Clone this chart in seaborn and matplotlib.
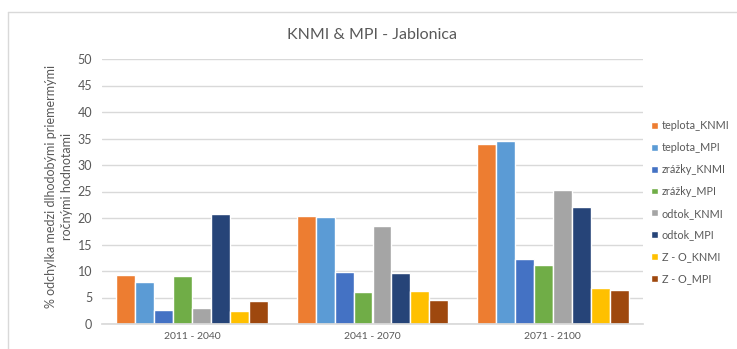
import numpy as np
import pandas as pd
import matplotlib
matplotlib.use("Agg")
import matplotlib.pyplot as plt
import seaborn as sns

# data
periods = ["2011 - 2040", "2041 - 2070", "2071 - 2100"]
series = ["teplota_KNMI", "teplota_MPI", "zrážky_KNMI", "zrážky_MPI",
          "odtok_KNMI", "odtok_MPI", "Z - O_KNMI", "Z - O_MPI"]
teplota_knmi = [9.3, 20.4, 34.0]
teplota_mpi = [8.0, 20.2, 34.5]
zrazky_knmi = [2.6, 9.9, 12.3]
zrazky_mpi = [9.1, 6.1, 11.1]
odtok_knmi = [3.1, 18.4, 25.3]
odtok_mpi = [20.7, 9.7, 22.1]
zo_knmi = [2.5, 6.3, 6.7]
zo_mpi = [4.3, 4.6, 6.5]
colors = ["#ED7D31", "#5B9BD5", "#4472C4", "#70AD47",
          "#A5A5A5", "#264478", "#FFC000", "#9E480E"]

values = [teplota_knmi, teplota_mpi, zrazky_knmi, zrazky_mpi,
          odtok_knmi, odtok_mpi, zo_knmi, zo_mpi]
df = pd.DataFrame([
    {"obdobie": p, "seria": s, "hodnota": v}
    for s, vals in zip(series, values)
    for p, v in zip(periods, vals)
])

sns.set_theme(style="white")
plt.rcParams["font.family"] = ["Lato", "DejaVu Sans"]
text_col = "#595959"
grid_col = "#D9D9D9"

fig = plt.figure(figsize=(7.37, 3.49), dpi=100)
ax = fig.add_axes([102 / 737, 1 - 324 / 349, 541 / 737, 265 / 349])

sns.barplot(data=df, x="obdobie", y="hodnota", hue="seria",
            hue_order=series, order=periods, palette=colors,
            width=0.84, edgecolor="white", linewidth=1.0,
            saturation=1, ax=ax)

ax.set_ylim(0, 50)
ax.set_yticks(np.arange(0, 51, 5))
ax.yaxis.grid(True, color=grid_col, linewidth=1)
ax.set_axisbelow(True)
for side in ["top", "right", "left"]:
    ax.spines[side].set_visible(False)
ax.spines["bottom"].set_color(grid_col)
ax.tick_params(axis="both", length=0, colors=text_col)
ax.tick_params(axis="y", labelsize=9, pad=7)
ax.tick_params(axis="x", labelsize=7.5, pad=6)
ax.set_xlabel("")
ax.set_ylabel("")

fig.text(59 / 737, 1 - 186 / 349,
         "% odchylka medzi dlhodobými priemermými\nročnými hodnotami",
         rotation=90, ha="center", va="center", multialignment="center",
         linespacing=1.35, fontsize=9, color=text_col)

ax.legend(loc="upper left", bbox_to_anchor=(647 / 737, 1 - 116 / 349),
          bbox_transform=fig.transFigure, frameon=False, fontsize=7.8,
          handlelength=0.6, handleheight=0.6, handletextpad=0.35,
          labelspacing=1.0, labelcolor=text_col, borderaxespad=0)

fig.text(372 / 737, 1 - 35 / 349, "KNMI & MPI - Jablonica",
         ha="center", va="center", fontsize=11.5, color=text_col)

# outer chart frame (left and top edges visible in the reference)
fig.add_artist(plt.Line2D([8 / 737, 8 / 737], [1 - 12 / 349, 0.0],
                          transform=fig.transFigure, color=grid_col, lw=1))
fig.add_artist(plt.Line2D([8 / 737, 1.0], [1 - 12 / 349, 1 - 12 / 349],
                          transform=fig.transFigure, color=grid_col, lw=1))

fig.savefig("out.png", dpi=100)
